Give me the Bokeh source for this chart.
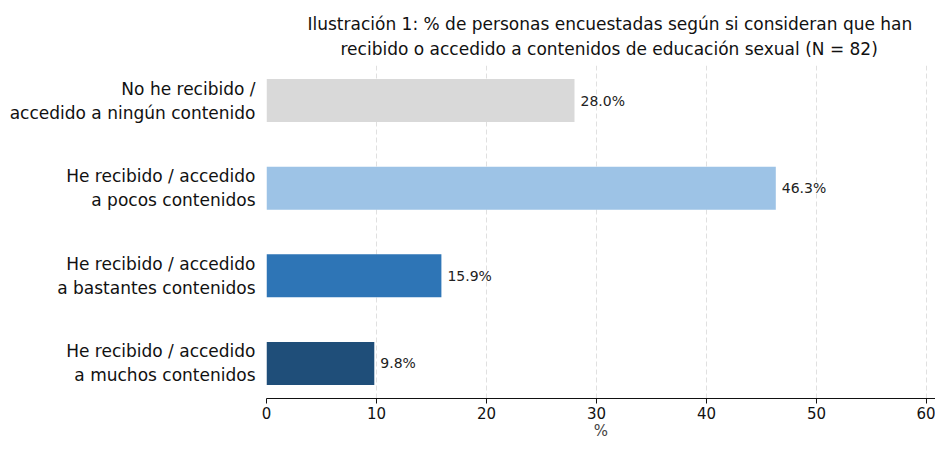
from bokeh.plotting import figure
from bokeh.models import Range1d, FactorRange, ColumnDataSource, LabelSet, FixedTicker, Title
from bokeh.core.properties import value
from bokeh.embed import file_html
from bokeh.resources import INLINE

categories = [
    "No he recibido /\naccedido a ningún contenido",
    "He recibido / accedido\na pocos contenidos",
    "He recibido / accedido\na bastantes contenidos",
    "He recibido / accedido\na muchos contenidos",
]
values = [28.0, 46.3, 15.9, 9.8]
colors = ["#d9d9d9", "#9dc3e6", "#2e75b6", "#1f4e79"]
labels = [f"{v:.1f}%" for v in values]
x_ticks = [0, 10, 20, 30, 40, 50, 60]
title_lines = [
    "Ilustración 1: % de personas encuestadas según si consideran que han",
    "recibido o accedido a contenidos de educación sexual (N = 82)",
]

src = ColumnDataSource(dict(cat=categories, val=values, color=colors, label=labels))

p = figure(
    width=935, height=442,
    y_range=FactorRange(factors=list(reversed(categories))),
    x_range=Range1d(0, (935 - 266) / 11.0),
    output_backend="svg", toolbar_location=None,
    min_border_left=266, min_border_right=0, min_border_top=65, min_border_bottom=0,
    title=title_lines[0],
)
p.y_range.factor_padding = 0.0
p.y_range.range_padding = -0.1
p.y_range.range_padding_units = "absolute"

p.hbar(y="cat", right="val", left=0, height=0.49, fill_color="color", line_color=None, source=src)
p.add_layout(LabelSet(x="val", y="cat", text="label", source=src, x_offset=6,
                      text_baseline="middle", text_font=value("DejaVu Sans"),
                      text_font_size=value("14px"), text_color="#222222"))

p.title.align = "left"
p.title.text_font = "DejaVu Sans"
p.title.text_font_size = "17px"
p.title.text_font_style = "normal"
p.title.text_color = "#111111"
p.title.standoff = -6
p.title.offset = 41
t2 = Title(text=title_lines[1], align="left", text_font="DejaVu Sans", text_font_size="17px",
           text_font_style="normal", text_color="#111111", standoff=13, offset=74)
p.add_layout(t2, "above")

p.outline_line_color = None
p.ygrid.grid_line_color = None
p.xgrid.grid_line_color = "#e0e0e0"
p.xgrid.grid_line_dash = "5 3"
p.xgrid.grid_line_width = 1
p.xaxis.ticker = FixedTicker(ticks=x_ticks)
p.xaxis.axis_label = "%"
p.xaxis.axis_label_text_font = "DejaVu Sans"
p.xaxis.axis_label_text_font_size = "15px"
p.xaxis.axis_label_text_font_style = "normal"
p.xaxis.axis_label_standoff = 0
p.xaxis.major_label_text_font = "DejaVu Sans"
p.xaxis.major_label_text_font_size = "15px"
p.xaxis.major_label_text_color = "#111111"
p.xaxis.axis_line_color = "#111111"
p.xaxis.major_tick_line_color = "#111111"
p.xaxis.major_tick_out = 5
p.xaxis.major_tick_in = 0
p.xaxis.minor_tick_line_color = None
p.xaxis.major_label_standoff = 3

p.yaxis.axis_line_color = None
p.yaxis.major_tick_line_color = None
p.yaxis.minor_tick_line_color = None
p.yaxis.major_label_text_font = "DejaVu Sans"
p.yaxis.major_label_text_font_size = "17px"
p.yaxis.major_label_text_color = "#111111"
p.yaxis.major_label_standoff = 5

open("out.html", "w").write(file_html(p, INLINE))
